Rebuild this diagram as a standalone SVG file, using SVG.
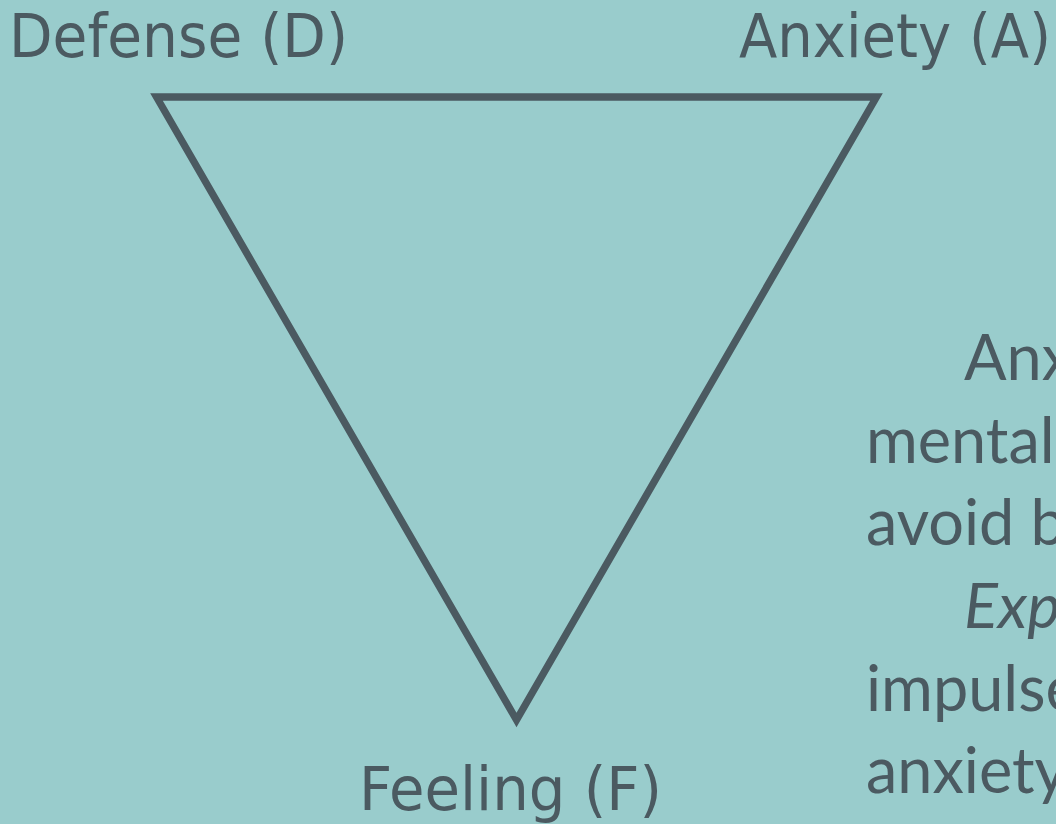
<svg xmlns="http://www.w3.org/2000/svg" width="1056" height="824" viewBox="0 0 1056 824">
  <style>
    .lbl { font-family: "DejaVu Sans", "Liberation Sans", sans-serif; font-size: 61px; fill: #4B5A61; }
    .body { font-family: Lato, "Open Sans", "Liberation Sans", sans-serif; font-size: 63px; fill: #4B5A61; }
    .edge { fill: none; stroke: #4B5A61; stroke-width: 7.3; stroke-linejoin: miter; stroke-miterlimit: 10; }
  </style>
  <rect x="0" y="0" width="1056" height="824" fill="#99CCCC"/>
  <g id="connectors">
    <polygon class="edge" points="156.5,97 876.5,97 516.5,720"/>
  </g>
  <g id="node-defense">
    <text class="lbl" x="9" y="57" textLength="339" lengthAdjust="spacingAndGlyphs">Defense (D)</text>
  </g>
  <g id="node-anxiety">
    <text class="lbl" x="739" y="57" textLength="312" lengthAdjust="spacingAndGlyphs">Anxiety (A)</text>
  </g>
  <g id="node-feeling">
    <text class="lbl" x="359" y="810" textLength="303" lengthAdjust="spacingAndGlyphs">Feeling (F)</text>
  </g>
  <g id="description">
    <text class="body" x="964" y="380">Anx</text>
    <text class="body" x="866" y="463">mental</text>
    <text class="body" x="866" y="545">avoid b</text>
    <text class="body" x="964" y="628" font-style="italic">Exp</text>
    <text class="body" x="866" y="711">impulse</text>
    <text class="body" x="866" y="793">anxiety</text>
  </g>
</svg>
